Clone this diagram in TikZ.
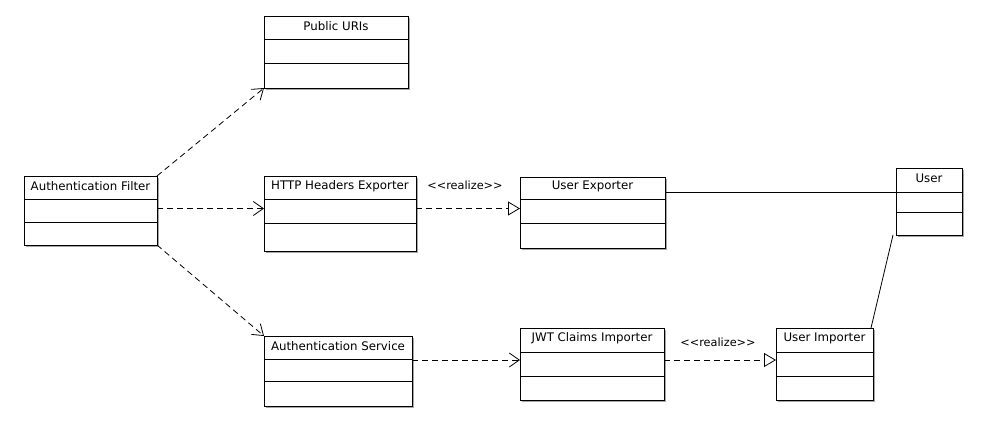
\documentclass[tikz,border=0pt]{standalone}
\usepackage{fontspec}
\setmainfont{DejaVu Sans}
\usetikzlibrary{arrows.meta,calc}
\tikzset{
  cls/.style={draw=black, fill=white, line width=0.9pt, inner sep=0pt, outer sep=0pt, rectangle},
  ttl/.style={font=\fontsize{11.8}{13}\selectfont, inner sep=0pt},
  lbl/.style={font=\fontsize{11.3}{13}\selectfont, inner sep=0pt},
  dep/.style={line width=0.8pt, dash pattern=on 6pt off 4pt, -{Straight Barb[length=10pt,width=14pt,line width=0.8pt]}},
  real/.style={line width=0.8pt, dash pattern=on 6pt off 4pt, -{Triangle[open,length=12pt,width=14pt,line width=0.8pt,fill=white]}},
  assoc/.style={line width=0.8pt}
}
\newcommand{\umlclass}[8]{%
  \fill[black!35] (#2+1.5,-#3-1.5) rectangle (#4+1.5,-#5-1.5);
  \node[cls, anchor=north west, minimum width={#4-#2}, minimum height={#5-#3}] (#1) at (#2,-#3) {};
  \coordinate (#1-d1) at (#2,-#6);
  \coordinate (#1-d2) at (#2,-#7);
  \draw[line width=0.9pt] (#1-d1) -- (#1-d1 -| #1.east);
  \draw[line width=0.9pt] (#1-d2) -- (#1-d2 -| #1.east);
  \node[ttl] (#1-t) at ($($(#1.north)!0.5!(#1-d1 -| #1.north)$)+(0,1.5)$) {#8};
}
\begin{document}
\begin{tikzpicture}[x=1pt,y=1pt]
\useasboundingbox[fill=white] (0,0) rectangle (986,-437);
\umlclass{af}{24}{176}{157}{245}{199}{222}{Authentication Filter}
\umlclass{pub}{264}{16}{408}{88}{39}{63}{Public URIs}
\umlclass{http}{264}{176}{416}{251}{199}{223}{HTTP Headers Exporter}
\umlclass{ue}{520}{177}{665}{248}{199}{223}{User Exporter}
\umlclass{user}{896}{168}{962}{235}{192}{212}{User}
\umlclass{as}{264}{336}{412}{406}{359}{381}{Authentication Service}
\umlclass{jwt}{520}{328}{664}{400}{352}{376}{JWT Claims Importer}
\umlclass{ui}{776}{328}{873}{400}{352}{376}{User Importer}

\coordinate (row1) at ($(af.east)+(0,2)$);
\coordinate (row2) at ($(as-d1)+(0,-1)$);
\coordinate (uitop) at ($(ui.north east)+(-2,0)$);
\coordinate (userbot) at ($(user.south west)+(-3,0)$);

\draw[dep] (af.north east) -- (pub.south west);
\draw[dep] (row1) -- (row1 -| http.west);
\draw[dep] (af.south east) -- (as.north west);
\draw[real] (row1 -| http.east) -- (row1 -| ue.west);
\draw[assoc] (user-d1 -| ue.east) -- (user-d1);
\draw[dep] (row2 -| as.east) -- (row2 -| jwt.west);
\draw[real] (row2 -| jwt.east) -- (row2 -| ui.west);
\draw[assoc] (uitop) -- (userbot);

\node[lbl] (r1) at (465,-185) {<\kern0pt<realize>\kern0pt>};
\node[lbl] (r2) at (718,-342) {<\kern0pt<realize>\kern0pt>};
\end{tikzpicture}
\end{document}
